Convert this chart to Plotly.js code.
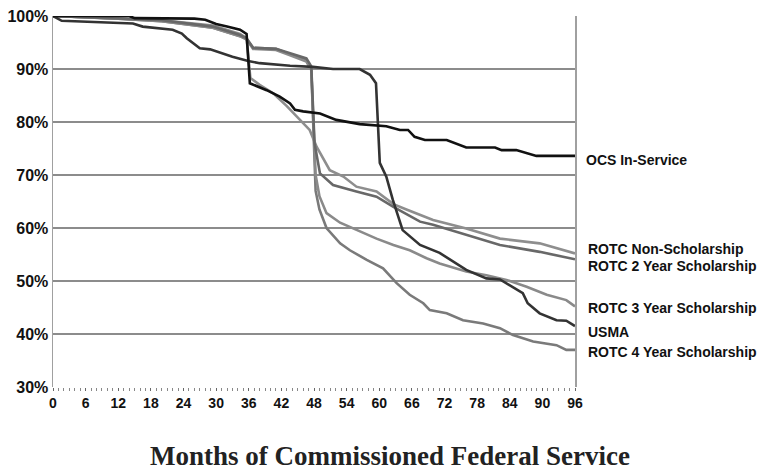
<!DOCTYPE html>
<html>
<head>
<meta charset="utf-8">
<script src="https://cdn.plot.ly/plotly-3.0.1.min.js"></script>
<style>html,body{margin:0;padding:0;background:#fff;}#chart{width:768px;height:475px;}</style>
</head>
<body>
<div id="chart"></div>
<script>
// Months of commissioned service and retention (%) per commissioning source
const ocsMonths = [0, 14, 15, 26, 28, 30, 32, 34.4, 35.6, 36.2, 39.3, 41.7, 43.6, 44.5, 46, 49.1, 52.1, 56.4, 61.3, 63.8, 65.3, 66.5, 68.4, 72.4, 76, 81.3, 82.5, 85.2, 88.9, 96];
const ocsValues = [100, 100, 99.6, 99.5, 99.3, 98.5, 98, 97.4, 96.6, 87.3, 86, 84.8, 83.5, 82.3, 82, 81.6, 80.4, 79.6, 79.2, 78.5, 78.5, 77.2, 76.6, 76.6, 75.2, 75.2, 74.7, 74.7, 73.6, 73.6];

const usmaMonths = [0, 1.6, 14.7, 16.5, 22, 23.7, 24.6, 27, 28.9, 33, 35.9, 38, 43.6, 47.8, 51.5, 56.4, 58.3, 59.4, 60.1, 61.3, 62.5, 64.3, 67.5, 71.1, 76, 79.7, 82.2, 84.6, 86.4, 87.3, 89.5, 92.6, 94.4, 96];
const usmaValues = [100, 99.1, 98.6, 98, 97.4, 96.7, 95.8, 93.9, 93.7, 92.3, 91.5, 91.1, 90.6, 90.4, 90, 90, 88.9, 87.3, 72.3, 69.7, 65.3, 59.6, 56.8, 55.3, 52.1, 50.5, 50.3, 48.9, 47.7, 45.8, 43.9, 42.6, 42.5, 41.5];

const nonSchMonths = [0, 12, 20, 29.4, 34.4, 35.6, 36.3, 38, 40.5, 43, 45, 47.2, 48.5, 50.9, 53.4, 55.8, 59.5, 62.6, 65, 67.5, 69.9, 76, 82.2, 89.5, 96];
const nonSchValues = [100, 99.6, 99.2, 98.2, 96.6, 95.8, 88.3, 87, 85.4, 83, 80.8, 78.5, 75.3, 70.9, 69.7, 67.8, 66.9, 64.5, 63.5, 62.5, 61.5, 59.9, 58, 57.1, 55.2];

const y2Months = [0, 12, 20, 29.4, 34.4, 35.6, 36.8, 41, 43.6, 46.6, 47.5, 48.1, 49.1, 51.5, 55.8, 59.5, 62.6, 67.5, 69.9, 76, 82.2, 89.5, 96];
const y2Values = [100, 99.6, 99.2, 98, 96.4, 95.8, 94, 93.8, 93, 92, 90.5, 76, 70.3, 68.1, 66.9, 65.9, 64, 61.2, 60.6, 58.7, 56.8, 55.5, 54.1];

const y3Months = [0, 12, 20, 29.4, 34.4, 35.6, 36.8, 41, 43.6, 46.6, 47.5, 48.3, 49, 50.3, 52.8, 55.8, 59.5, 62.6, 65.6, 68.7, 71.1, 76, 79.7, 83.4, 87.1, 90.8, 94.4, 96];
const y3Values = [100, 99.5, 99, 97.8, 96.2, 95.6, 93.8, 93.6, 92.6, 91.4, 89.8, 70, 66, 62.8, 61, 59.6, 58, 56.8, 55.8, 54.3, 53.3, 51.8, 51.1, 50.2, 48.9, 47.4, 46.4, 45.2];

const y4Months = [0, 12, 20, 29.4, 34.4, 35.6, 36.8, 41, 43.6, 46.6, 47.5, 48.3, 49, 50.3, 52.8, 54.6, 57.7, 60.7, 63.2, 65.6, 68.1, 69.3, 72.4, 75.4, 79.1, 82.2, 84.6, 88.3, 92.6, 94.4, 96];
const y4Values = [100, 99.5, 99, 97.8, 96.2, 95.6, 94, 93.8, 92.8, 91.6, 90, 67, 63.5, 60, 57.1, 55.8, 54, 52.4, 49.6, 47.4, 45.8, 44.5, 43.9, 42.6, 42, 41.1, 39.8, 38.6, 37.9, 37, 37];

const seriesNames = ["OCS In-Service", "ROTC Non-Scholarship", "ROTC 2 Year Scholarship", "ROTC 3 Year Scholarship", "USMA", "ROTC 4 Year Scholarship"];
const xTickVals = [0, 6, 12, 18, 24, 30, 36, 42, 48, 54, 60, 66, 72, 78, 84, 90, 96];
const yTickVals = [30, 40, 50, 60, 70, 80, 90, 100];
const xTitle = 'Months of Commissioned Federal Service';

const FONT = "'Liberation Sans', Arial, sans-serif";

function line(x, y, name, color, width) {
  return {x: x, y: y, name: name, type: 'scatter', mode: 'lines',
          line: {color: color, width: width, shape: 'linear'}, hoverinfo: 'skip'};
}

const traces = [
  line(y4Months, y4Values, seriesNames[5], '#7a7a7a', 2.6),
  line(y3Months, y3Values, seriesNames[3], '#8a8a8a', 2.6),
  line(nonSchMonths, nonSchValues, seriesNames[1], '#8e8e8e', 2.6),
  line(y2Months, y2Values, seriesNames[2], '#686868', 2.6),
  line(usmaMonths, usmaValues, seriesNames[4], '#333333', 2.6),
  line(ocsMonths, ocsValues, seriesNames[0], '#111111', 2.6)
];

// label anchor positions (layout only)
const labelY = [72.8, 56.0, 52.8, 44.9, 40.4, 36.6];
const labelX = [584, 586, 586, 586, 586, 586];

const annotations = seriesNames.map((n, i) => ({
  xref: 'paper', yref: 'y', x: (labelX[i] - 53) / 522, y: labelY[i],
  xanchor: 'left', yanchor: 'middle', showarrow: false, text: n,
  font: {family: FONT, size: 14, color: '#111', weight: 'bold'}
}));
annotations.push({
  xref: 'paper', yref: 'paper', x: (390 - 53) / 522, y: (387 - 456) / 371,
  xanchor: 'center', yanchor: 'middle', showarrow: false, text: xTitle,
  font: {family: "'Liberation Serif', 'Times New Roman', serif", size: 27, color: '#222', weight: 'bold'}
});

const layout = {
  width: 768, height: 475,
  margin: {l: 53, r: 193, t: 16, b: 88},
  paper_bgcolor: '#fff', plot_bgcolor: '#fff',
  showlegend: false,
  xaxis: {
    range: [0, 96], tickvals: xTickVals, ticktext: xTickVals.map(String),
    ticks: 'outside', ticklen: 3, tickcolor: '#666', tickwidth: 1,
    minor: {dtick: 1, ticks: 'outside', ticklen: 3, tickcolor: '#888', tickwidth: 1, showgrid: false},
    showgrid: false, zeroline: false, showline: false,
    tickfont: {family: FONT, size: 14, color: '#111', weight: 'bold'},
    fixedrange: true
  },
  yaxis: {
    range: [30, 100], tickvals: yTickVals, ticktext: yTickVals.map(v => v + '%'),
    ticks: '', showgrid: true, gridcolor: '#8c8c8c', gridwidth: 1.4,
    zeroline: false, showline: true, linecolor: '#a0a0a0', linewidth: 1.5, mirror: true,
    tickfont: {family: FONT, size: 16, color: '#111', weight: 'bold'},
    fixedrange: true
  },
  annotations: annotations
};

Plotly.newPlot('chart', traces, layout, {staticPlot: true, displayModeBar: false});
</script>
</body>
</html>
